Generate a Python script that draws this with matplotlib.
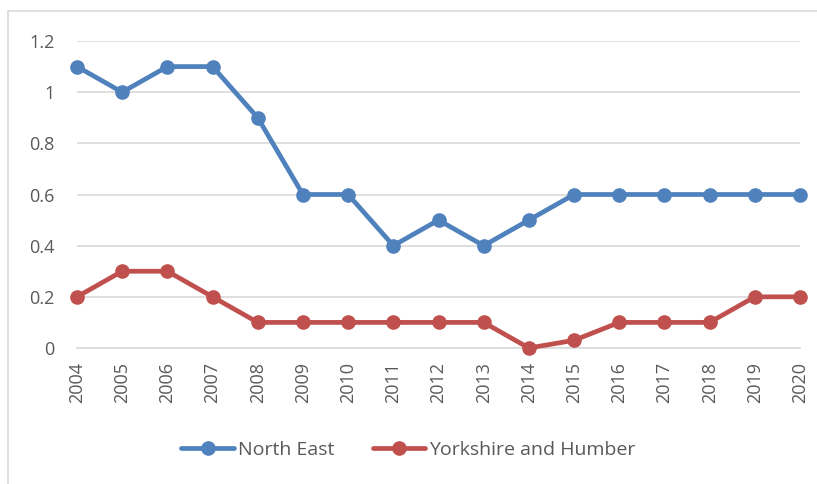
import matplotlib
matplotlib.use("Agg")
import matplotlib.pyplot as plt
from matplotlib.patches import Rectangle

years = list(range(2004, 2021))
north_east = [1.1, 1.0, 1.1, 1.1, 0.9, 0.6, 0.6, 0.4, 0.5, 0.4, 0.5, 0.6, 0.6, 0.6, 0.6, 0.6, 0.6]
yorkshire = [0.2, 0.3, 0.3, 0.2, 0.1, 0.1, 0.1, 0.1, 0.1, 0.1, 0.0, 0.03, 0.1, 0.1, 0.1, 0.2, 0.2]
y_ticks = [0, 0.2, 0.4, 0.6, 0.8, 1, 1.2]
y_labels = ["0", "0.2", "0.4", "0.6", "0.8", "1", "1.2"]

C_NE = "#4F81BD"
C_YH = "#C0504D"
TXT = "#595959"

plt.rcParams["font.family"] = ["Open Sans", "DejaVu Sans"]

W, H = 817, 484
fig = plt.figure(figsize=(W / 100, H / 100), dpi=100)
ax = fig.add_axes([77 / W, 1 - 348 / H, (800 - 77) / W, (348 - 41) / H])

# chart frame
fig.patches.append(Rectangle((8 / W, -0.1), 1.2, 1 - 11 / H + 0.1, transform=fig.transFigure,
                             fill=False, edgecolor="#D9D9D9", lw=1.2))

ax.plot(years, north_east, color=C_NE, lw=3.4, marker="o", ms=9.5, label="North East",
        clip_on=False, zorder=3, solid_capstyle="round")
ax.plot(years, yorkshire, color=C_YH, lw=3.4, marker="o", ms=9.5, label="Yorkshire and Humber",
        clip_on=False, zorder=3, solid_capstyle="round")

ax.set_xlim(2004, 2020)
ax.set_ylim(0, 1.2)
ax.set_xticks(years)
ax.set_xticklabels([str(y) for y in years], rotation=90, fontsize=13, color=TXT)
ax.set_yticks(y_ticks)
ax.set_yticklabels(y_labels, fontsize=13, color=TXT)
ax.tick_params(axis="both", length=0)
ax.tick_params(axis="y", pad=16)
ax.tick_params(axis="x", pad=10)
ax.grid(axis="y", color="#D9D9D9", lw=1.2)
ax.set_axisbelow(True)
for side in ["top", "right", "left"]:
    ax.spines[side].set_visible(False)
ax.spines["bottom"].set_color("#D9D9D9")
ax.spines["bottom"].set_linewidth(1.2)

leg = fig.legend(loc="center", bbox_to_anchor=(0.5, 1 - 450 / H), ncol=2, frameon=False,
                 fontsize=14, handlelength=2.7, handletextpad=0.2, columnspacing=2.0)
for t in leg.get_texts():
    t.set_color(TXT)

fig.savefig("out.png", dpi=100)
